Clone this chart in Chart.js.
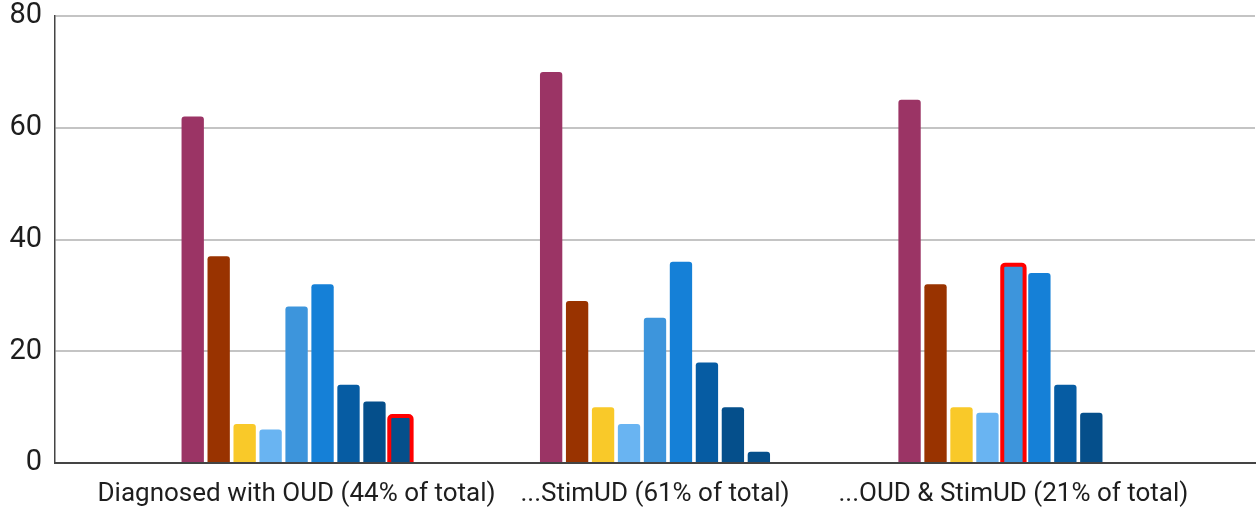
<!DOCTYPE html>
<html>
<head>
<meta charset="utf-8">
<script src="https://cdn.jsdelivr.net/npm/chart.js@4/dist/chart.umd.min.js"></script>
<style>
  html, body { margin: 0; padding: 0; background: #ffffff; }
  #wrap { width: 1258px; height: 512px; }
</style>
</head>
<body>
<div id="wrap"><canvas id="chart" width="1258" height="512"></canvas></div>
<script>
// Groups along the x axis
const categories = [
  'Diagnosed with OUD (44% of total)',
  '...StimUD (61% of total)',
  '...OUD & StimUD (21% of total)'
];

// One series per bar within each group (percent)
const series1 = [62, 70, 65];
const series2 = [37, 29, 32];
const series3 = [7, 10, 10];
const series4 = [6, 7, 9];
const series5 = [28, 26, 35.5];
const series6 = [32, 36, 34];
const series7 = [14, 18, 14];
const series8 = [11, 10, 9];
const series9 = [8.4, 2, null];

const yTicks = [0, 20, 40, 60, 80];

const seriesList = [series1, series2, series3, series4, series5, series6, series7, series8, series9];
const seriesColors = ['#9b3465', '#993300', '#f9c929', '#69b4f2', '#3d95dc', '#1580d7', '#065ca3', '#054f8b', '#054f8b'];

// Bars outlined in red: [series index, category index]
const outlined = [[8, 0], [4, 2]];

const outlinePlugin = {
  id: 'outlineBars',
  afterDatasetsDraw(chart) {
    const ctx = chart.ctx;
    ctx.save();
    ctx.strokeStyle = '#ff0000';
    ctx.lineWidth = 4;
    ctx.lineJoin = 'round';
    outlined.forEach(([s, c]) => {
      const el = chart.getDatasetMeta(s).data[c];
      if (!el) return;
      const p = el.getProps(['x', 'y', 'base', 'width'], true);
      const left = p.x - p.width / 2, right = p.x + p.width / 2;
      const r = 3;
      ctx.beginPath();
      ctx.moveTo(left, p.base);
      ctx.lineTo(left, p.y + r);
      ctx.arcTo(left, p.y, left + r, p.y, r);
      ctx.lineTo(right - r, p.y);
      ctx.arcTo(right, p.y, right, p.y + r, r);
      ctx.lineTo(right, p.base);
      ctx.stroke();
    });
    ctx.restore();
  }
};

const datasets = seriesList.map((vals, i) => ({
  label: 'Series ' + (i + 1),
  data: vals.map((v, k) => ({ x: k, y: v })),
  backgroundColor: seriesColors[i],
  borderWidth: 0,
  borderRadius: 3,
  borderSkipped: 'start',
  categoryPercentage: 0.652,
  barPercentage: 0.86
}));

new Chart(document.getElementById('chart'), {
  type: 'bar',
  data: { datasets },
  plugins: [outlinePlugin],
  options: {
    responsive: false,
    animation: false,
    events: [],
    layout: { padding: { top: 16, right: 3, left: 0, bottom: 0 } },
    plugins: {
      legend: { display: false },
      tooltip: { enabled: false }
    },
    scales: {
      x: {
        type: 'linear',
        min: -0.674,
        max: 2.674,
        offset: false,
        grid: { display: false, drawTicks: false },
        border: { display: true, color: '#444444', width: 2 },
        afterBuildTicks(scale) {
          scale.ticks = categories.map((_, i) => ({ value: i }));
        },
        afterFit(scale) {
          scale.height = 49;
          scale.paddingLeft = 0;
          scale.paddingRight = 0;
        },
        ticks: {
          autoSkip: false,
          maxRotation: 0,
          padding: 16,
          color: '#1e1e1e',
          font: { family: 'Roboto', size: 26 },
          callback: (v) => categories[v]
        }
      },
      y: {
        min: 0,
        max: 80,
        afterBuildTicks(scale) {
          scale.ticks = yTicks.map(v => ({ value: v }));
        },
        afterFit(scale) {
          scale.width = 55;
          scale.paddingTop = 0;
          scale.paddingBottom = 0;
        },
        grid: { color: '#c4c4c4', lineWidth: 2, drawTicks: false },
        border: { display: true, color: '#444444', width: 1.5 },
        ticks: {
          padding: 13,
          color: '#1e1e1e',
          font: { family: 'Roboto', size: 29 }
        }
      }
    }
  }
});
</script>
</body>
</html>
